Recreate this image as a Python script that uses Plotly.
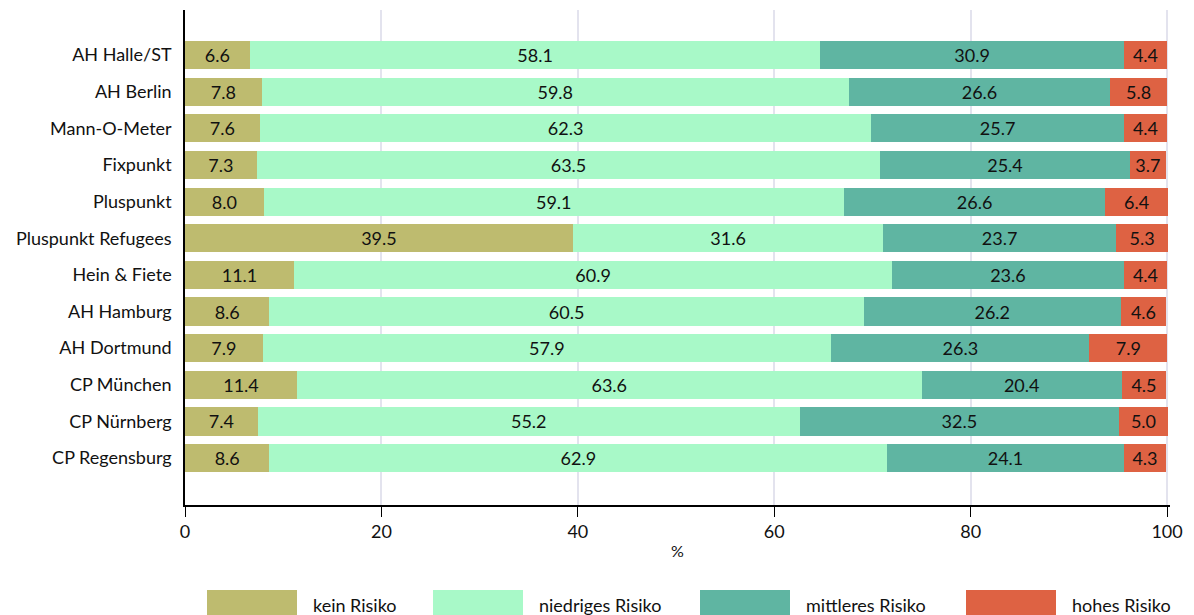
import plotly.graph_objects as go

categories = ["AH Halle/ST", "AH Berlin", "Mann-O-Meter", "Fixpunkt", "Pluspunkt",
              "Pluspunkt Refugees", "Hein & Fiete", "AH Hamburg", "AH Dortmund",
              "CP München", "CP Nürnberg", "CP Regensburg"]
kein = [6.6, 7.8, 7.6, 7.3, 8.0, 39.5, 11.1, 8.6, 7.9, 11.4, 7.4, 8.6]
niedrig = [58.1, 59.8, 62.3, 63.5, 59.1, 31.6, 60.9, 60.5, 57.9, 63.6, 55.2, 62.9]
mittel = [30.9, 26.6, 25.7, 25.4, 26.6, 23.7, 23.6, 26.2, 26.3, 20.4, 32.5, 24.1]
hoch = [4.4, 5.8, 4.4, 3.7, 6.4, 5.3, 4.4, 4.6, 7.9, 4.5, 5.0, 4.3]
series_names = ["kein Risiko", "niedriges Risiko", "mittleres Risiko", "hohes Risiko"]
x_ticks = [0, 20, 40, 60, 80, 100]

colors = ["#BEBB6F", "#A8F9C8", "#5FB5A2", "#DE6243"]
FONT = "Lato, Carlito, Calibri, sans-serif"
FS = 18

fig = go.Figure()
for name, vals, col in zip(series_names, [kein, niedrig, mittel, hoch], colors):
    fig.add_trace(go.Bar(
        y=categories, x=vals, name=name, orientation="h",
        marker=dict(color=col, line=dict(width=0)),
        text=[f"{v:.1f}" for v in vals], textposition="inside",
        insidetextanchor="middle", textangle=0,
        textfont=dict(color="#111111", size=FS, family=FONT),
        showlegend=False, width=0.77,
    ))

L, R, T, B = 185, 24, 10, 110
PW = 1194 - L - R
PH = 615 - T - B

fig.update_layout(
    barmode="stack", bargap=0.2,
    width=1194, height=615,
    margin=dict(l=L, r=R, t=T, b=B),
    plot_bgcolor="white", paper_bgcolor="white",
    font=dict(family=FONT, size=FS, color="#111111"),
)
fig.update_xaxes(range=[0, 100.3], tickvals=x_ticks, showgrid=True, gridcolor="#E3E3EE",
                 gridwidth=2, showline=True, linecolor="black", linewidth=1.5,
                 ticks="outside", ticklen=10, tickcolor="black", zeroline=False,
                 title=dict(text="%", font=dict(size=16), standoff=4),
                 tickfont=dict(size=FS))
fig.update_yaxes(categoryorder="array", categoryarray=categories,
                 range=[12.28, -1.23], showline=True, linecolor="black", linewidth=1.5,
                 ticks="", showgrid=False, tickfont=dict(size=FS), ticklabelstandoff=8)

# legend drawn manually as wide swatches
leg_x = [207, 433, 700, 966]
for name, col, lx in zip(series_names, colors, leg_x):
    fig.add_shape(type="rect", xref="paper", yref="paper",
                  x0=(lx - L) / PW, x1=(lx + 90 - L) / PW,
                  y0=(615 - B - 590) / PH, y1=(615 - B - 618) / PH,
                  fillcolor=col, line=dict(width=0))
    fig.add_annotation(xref="paper", yref="paper",
                       x=(lx + 104 - L) / PW, y=(615 - B - 605) / PH,
                       text=name, showarrow=False, xanchor="left", yanchor="middle",
                       font=dict(size=FS))

fig.write_html("out.html")
